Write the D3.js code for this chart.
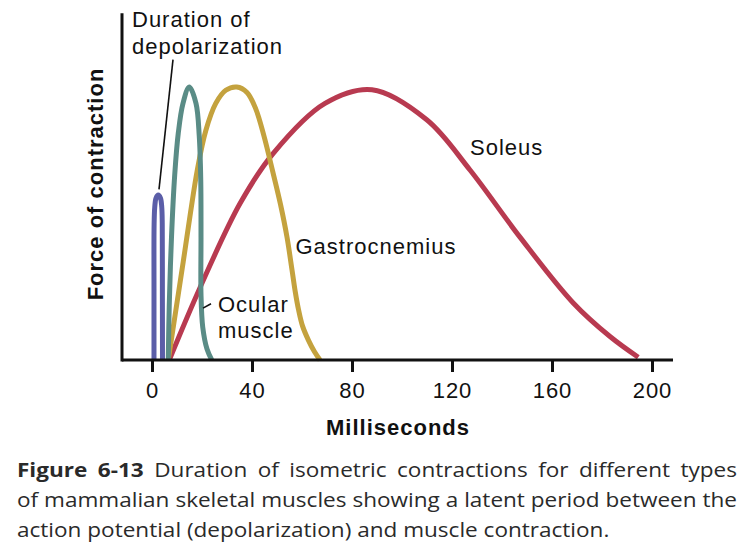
<!DOCTYPE html>
<html>
<head>
<meta charset="utf-8">
<script src="https://cdn.jsdelivr.net/npm/d3@7"></script>
<style>
  body { margin: 0; background: #fff; }
  .lbl { font-family: Arial, "Liberation Sans", Helvetica, sans-serif; font-size: 22px; letter-spacing: 1px; fill: #111; }
  .cap { font-family: "Open Sans", "Noto Sans", sans-serif; font-size: 20px; fill: #2a2a2a; }
</style>
</head>
<body>
<div id="chart"></div>
<script>
// x ticks (milliseconds)
var msTicks = [0, 40, 80, 120, 160, 200];

// curves: time (ms) and relative force
var depolMs    = [0.8, 0.8, 0.85, 1.1, 1.6, 2.5, 3.4, 3.9, 4.1, 4.15, 4.2];
var depolForce = [0, 25, 50, 56, 59.3, 60.4, 59.3, 56, 50, 25, 0];

var ocularMs    = [6.5, 6.9, 7.8, 9.1, 10.5, 12.4, 14.9, 17.6, 18.9, 19.5, 19.6, 19.6, 20.3, 22, 23.9];
var ocularForce = [0, 20, 45, 68, 83, 94, 100, 94, 82, 66, 45, 24, 12, 4, 0];

var gastroMs    = [6.5, 9.5, 12.5, 15.4, 18.2, 21.5, 25.5, 29.5, 33.9, 38, 41.5, 44.8, 48.3, 51.4, 54, 56, 57.3, 58.6, 60.2, 62.6, 65, 67.2];
var gastroForce = [0, 18, 36, 54, 70, 84, 94, 98.8, 100, 98, 92, 82, 69, 57, 45, 33, 25, 18.5, 12.5, 7.2, 3, 0];

var soleusMs    = [6.9, 19.2, 35.2, 48.5, 69.2, 88, 109.9, 127.2, 147.2, 168.5, 183.2, 194.5];
var soleusForce = [0, 26.5, 57.3, 75.7, 94, 99, 88, 69.6, 45, 20.9, 8.6, 1];

var seriesColors = ["#5b5ea8", "#5a8c86", "#c4a23e", "#b83a50"];

// annotation labels in data units (ms, force)
var labelText  = ["Duration of", "depolarization", "Gastrocnemius", "Soleus", "Ocular", "muscle"];
var labelMs    = [-8, -8, 57.4, 127.2, 26.4, 26.4];
var labelForce = [122, 112, 39, 75, 17.5, 8];

// leader lines: [ms1, f1, ms2, f2]
var leaders = [[8.4, 110, 2.8, 62.5], [20.4, 19, 23.6, 20.6]];

var captionLines = [
  ["Figure 6-13", " Duration of isometric contractions for different types"],
  ["", "of mammalian skeletal muscles showing a latent period between the"],
  ["", "action potential (depolarization) and muscle contraction."]
];

var W = 751, H = 560;

var x = d3.scaleLinear().domain([0, 200]).range([152, 652]);
var y = d3.scaleLinear().domain([0, 100]).range([360, 87]);

var svg = d3.select("#chart").append("svg")
    .attr("width", W)
    .attr("height", H);

svg.append("rect").attr("width", W).attr("height", H).attr("fill", "#fff");

var line = d3.line()
    .x(function(d) { return x(d[0]); })
    .y(function(d) { return y(d[1]); })
    .curve(d3.curveCatmullRom.alpha(0.5));

var series = [
  d3.zip(soleusMs, soleusForce),
  d3.zip(gastroMs, gastroForce),
  d3.zip(ocularMs, ocularForce),
  d3.zip(depolMs, depolForce)
];
var order = [3, 2, 1, 0];

svg.selectAll("path.curve")
    .data(series)
  .enter().append("path")
    .attr("class", "curve")
    .attr("d", line)
    .attr("fill", "none")
    .attr("stroke", function(d, i) { return seriesColors[order[i]]; })
    .attr("stroke-width", 5)
    .attr("stroke-linecap", "butt")
    .attr("stroke-linejoin", "round");

// axes
var xAxis = svg.append("g")
    .attr("transform", "translate(0," + y(0) + ")")
    .call(d3.axisBottom(x).tickValues(msTicks).tickSizeInner(12).tickSizeOuter(0).tickPadding(0));
xAxis.attr("font-family", null);
xAxis.select(".domain").remove();
xAxis.selectAll(".tick line").attr("stroke", "#111").attr("stroke-width", 3);
xAxis.selectAll(".tick text")
    .attr("class", "lbl")
    .attr("y", 38).attr("dy", 0)
    .attr("fill", "#111");

svg.append("line")
    .attr("x1", x(-12)).attr("x2", x(208.4))
    .attr("y1", y(0)).attr("y2", y(0))
    .attr("stroke", "#111").attr("stroke-width", 3);
svg.append("line")
    .attr("x1", x(-12)).attr("x2", x(-12))
    .attr("y1", y(0) + 1.5).attr("y2", y(127))
    .attr("stroke", "#111").attr("stroke-width", 3);

svg.append("text")
    .attr("class", "lbl")
    .attr("x", 398).attr("y", 435)
    .attr("text-anchor", "middle")
    .style("font-weight", "bold")
    .text("Milliseconds");

svg.append("text")
    .attr("class", "lbl")
    .attr("transform", "translate(103,184) rotate(-90)")
    .attr("text-anchor", "middle")
    .style("font-weight", "bold")
    .text("Force of contraction");

// labels
svg.selectAll("text.ann")
    .data(labelText)
  .enter().append("text")
    .attr("class", "lbl ann")
    .attr("x", function(d, i) { return x(labelMs[i]); })
    .attr("y", function(d, i) { return y(labelForce[i]); })
    .text(function(d) { return d; });

svg.selectAll("line.lead")
    .data(leaders)
  .enter().append("line")
    .attr("class", "lead")
    .attr("x1", function(d) { return x(d[0]); })
    .attr("y1", function(d) { return y(d[1]); })
    .attr("x2", function(d) { return x(d[2]); })
    .attr("y2", function(d) { return y(d[3]); })
    .attr("stroke", "#111").attr("stroke-width", 1.6);

// caption, justified like the book text
var capLeft = 17, capRight = 737, lastWidth = 593;
var capBase = [477, 507, 537];
var caps = captionLines.map(function(parts, i) {
  var t = svg.append("text").attr("class", "cap")
      .attr("x", 0).attr("y", 0)
      .attr("transform", "translate(" + capLeft + "," + capBase[i] + ")");
  if (parts[0]) t.append("tspan").style("font-weight", "bold").text(parts[0]);
  t.append("tspan").text(parts[1]);
  return t;
});
var s = lastWidth / caps[2].node().getComputedTextLength();
caps.forEach(function(t, i) {
  t.attr("transform", "translate(" + capLeft + "," + capBase[i] + ") scale(" + s + ",1)");
  if (i < 2) {
    var txt = captionLines[i].join("");
    var nSp = txt.split(" ").length - 1;
    var extra = ((capRight - capLeft) / s - t.node().getComputedTextLength()) / nSp;
    t.style("word-spacing", extra + "px");
  }
});
</script>
</body>
</html>
